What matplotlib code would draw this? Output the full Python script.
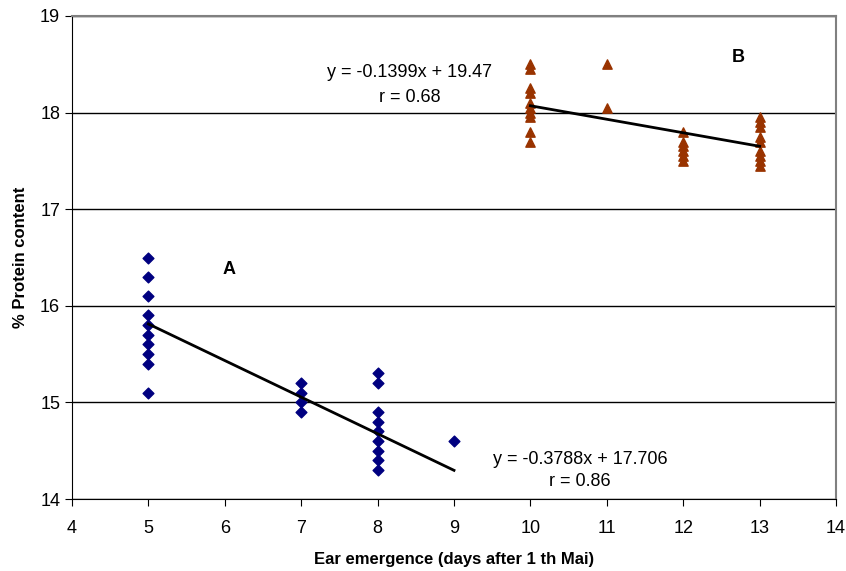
import numpy as np
import matplotlib.pyplot as plt

plt.rcParams['font.family'] = ['Liberation Sans', 'DejaVu Sans']

# group A (diamonds)
xa = [5]*10 + [7]*4 + [8]*9 + [9]
ya = [16.5, 16.3, 16.1, 15.9, 15.8, 15.7, 15.6, 15.5, 15.4, 15.1,
      15.2, 15.1, 15.0, 14.9,
      15.3, 15.2, 14.9, 14.8, 14.7, 14.6, 14.5, 14.4, 14.3,
      14.6]
# group B (triangles)
xb = [10]*10 + [11]*2 + [12]*6 + [13]*9
yb = [18.5, 18.45, 18.25, 18.2, 18.1, 18.05, 18.0, 17.95, 17.8, 17.7,
      18.5, 18.05,
      17.8, 17.7, 17.65, 17.6, 17.55, 17.5,
      17.95, 17.9, 17.85, 17.75, 17.7, 17.6, 17.55, 17.5, 17.45]

fit_a = (-0.3788, 17.706)
fit_b = (-0.1399, 19.47)

fig = plt.figure(figsize=(8.46, 5.71), dpi=100)
ax = fig.add_axes([72/846, 1-499/571, 764/846, 483/571])

ax.scatter(xa, ya, marker='D', s=30, color='#000080', zorder=3)
ax.scatter(xb, yb, marker='^', s=45, color='#993300', zorder=3)

lx = np.array([5, 9])
ax.plot(lx, fit_a[0]*lx + fit_a[1], color='black', lw=2, zorder=4)
lx = np.array([10, 13])
ax.plot(lx, fit_b[0]*lx + fit_b[1], color='black', lw=2, zorder=4)

ax.set_xlim(4, 14)
ax.set_ylim(14, 19)
ax.set_xticks(range(4, 15))
ax.set_yticks(range(14, 20))
ax.yaxis.grid(True, color='black', lw=1)
ax.set_axisbelow(True)
ax.tick_params(labelsize=13, direction='out', length=5)
ax.tick_params(axis='x', pad=10)
for s in ['top', 'right']:
    ax.spines[s].set_color('#808080')
    ax.spines[s].set_linewidth(1.5)

ax.set_xlabel('Ear emergence (days after 1 th Mai)', fontsize=12, fontweight='bold', labelpad=11)
ax.set_ylabel('% Protein content', fontsize=12, fontweight='bold', labelpad=9)

ax.text(8.42, 18.42, 'y = -0.1399x + 19.47', fontsize=13, ha='center', va='center')
ax.text(8.42, 18.16, 'r = 0.68', fontsize=13, ha='center', va='center')
ax.text(10.65, 14.41, 'y = -0.3788x + 17.706', fontsize=13, ha='center', va='center')
ax.text(10.65, 14.18, 'r = 0.86', fontsize=13, ha='center', va='center')
ax.text(6.05, 16.38, 'A', fontsize=13, fontweight='bold', ha='center', va='center')
ax.text(12.72, 18.57, 'B', fontsize=13, fontweight='bold', ha='center', va='center')

fig.savefig('out.png', dpi=100)
